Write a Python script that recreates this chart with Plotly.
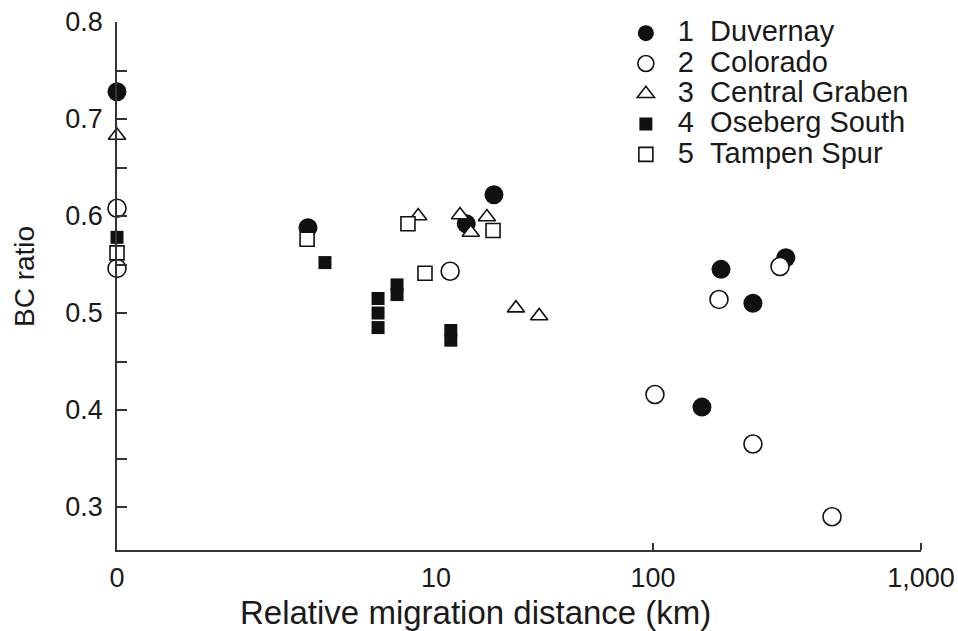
import plotly.graph_objects as go

# ---- data ----
duvernay_x = [1.0, 5.16, 20.1, 25.5, 179.4, 236, 313, 152.3]
duvernay_y = [0.728, 0.588, 0.592, 0.622, 0.545, 0.510, 0.557, 0.403]

colorado_x = [1.0, 1.0, 17.5, 176.3, 297.8, 101.7, 236, 465.6]
colorado_y = [0.608, 0.546, 0.543, 0.514, 0.548, 0.416, 0.365, 0.290]

graben_x = [1.0, 13.3, 19.05, 20.9, 24.0, 30.8, 37.6]
graben_y = [0.683, 0.600, 0.601, 0.583, 0.599, 0.505, 0.497]

oseberg_x = [1.0, 5.97, 9.42, 9.42, 9.42, 11.09, 11.09, 17.6, 17.6]
oseberg_y = [0.578, 0.552, 0.515, 0.500, 0.485, 0.529, 0.519, 0.482, 0.472]

tampen_x = [1.0, 5.12, 12.18, 14.1, 25.3]
tampen_y = [0.562, 0.576, 0.592, 0.541, 0.585]

series_names = ["1\u00a0\u00a0Duvernay", "2\u00a0\u00a0Colorado", "3\u00a0\u00a0Central Graben",
                "4\u00a0\u00a0Oseberg South", "5\u00a0\u00a0Tampen Spur"]

x_tick_vals = [1, 15.5, 100, 1000]
x_tick_text = ["0", "10", "100", "1,000"]
x_marked_ticks = [100, 1000]
y_tick_vals = [0.3, 0.4, 0.5, 0.6, 0.7, 0.8]

x_title = "Relative migration distance (km)"
y_title = "BC ratio"

INK = "#111111"
TXT = "#1a1a1a"
FONT = "Liberation Sans, Arial, Helvetica, sans-serif"

fig = go.Figure()

styles = [
    dict(symbol="circle", size=19, color=INK, line=dict(width=0, color=INK)),
    dict(symbol="circle", size=18, color="white", line=dict(width=1.6, color=INK)),
    dict(symbol="triangle-up", size=15, color="white", line=dict(width=1.6, color=INK)),
    dict(symbol="square", size=13, color=INK, line=dict(width=0, color=INK)),
    dict(symbol="square", size=14, color="white", line=dict(width=1.6, color=INK)),
]
datasets = [(duvernay_x, duvernay_y), (colorado_x, colorado_y), (graben_x, graben_y),
            (oseberg_x, oseberg_y), (tampen_x, tampen_y)]

for (xs, ys), name, st in zip(datasets, series_names, styles):
    fig.add_trace(go.Scatter(
        x=xs, y=ys, mode="markers",
        name='<span style="font-size:29px">' + name + '</span>',
        marker=st, cliponaxis=False))

fig.update_layout(
    width=958, height=631,
    margin=dict(l=117, r=37, t=22, b=81, autoexpand=False),
    paper_bgcolor="white", plot_bgcolor="white",
    font=dict(family=FONT, size=27, color=TXT),
    showlegend=True,
    legend=dict(x=0.618, y=1.017, xanchor="left", yanchor="top",
                bgcolor="rgba(0,0,0,0)", itemwidth=54,
                font=dict(size=21, family=FONT, color=TXT)),
    xaxis=dict(type="log", range=[0, 3], showgrid=False, zeroline=False,
               automargin=False,
               showline=True, linecolor="#333333", linewidth=1.5,
               tickmode="array", tickvals=x_tick_vals, ticktext=x_tick_text,
               ticks="", ticklabelstandoff=3,
               minor=dict(tickmode="array", tickvals=x_marked_ticks, ticks="inside",
                          ticklen=7, tickcolor="#333333", tickwidth=1.5, showgrid=False),
               tickfont=dict(size=27)),
    yaxis=dict(range=[0.2557, 0.8], showgrid=False, zeroline=False,
               automargin=False,
               showline=True, linecolor="#333333", linewidth=1.5,
               tickmode="array", tickvals=y_tick_vals, tickformat=".1f",
               ticks="inside", ticklen=10, tickcolor="#333333", tickwidth=1.5,
               ticklabelstandoff=7,
               minor=dict(dtick=0.05, tick0=0.3, ticks="inside", ticklen=10,
                          tickcolor="#333333", tickwidth=1.5, showgrid=False),
               tickfont=dict(size=27)),
)

fig.add_annotation(text=x_title, xref="paper", yref="paper",
                   x=(475 - 117) / 804, y=-(612 - 550) / 528,
                   xanchor="center", yanchor="middle", showarrow=False,
                   font=dict(size=33, family=FONT, color=TXT))
fig.add_annotation(text=y_title, xref="paper", yref="paper",
                   x=-(117 - 24) / 804, y=(550 - 277) / 528,
                   xanchor="center", yanchor="middle", showarrow=False, textangle=-90,
                   font=dict(size=28, family=FONT, color=TXT))

fig.write_html("out.html")
